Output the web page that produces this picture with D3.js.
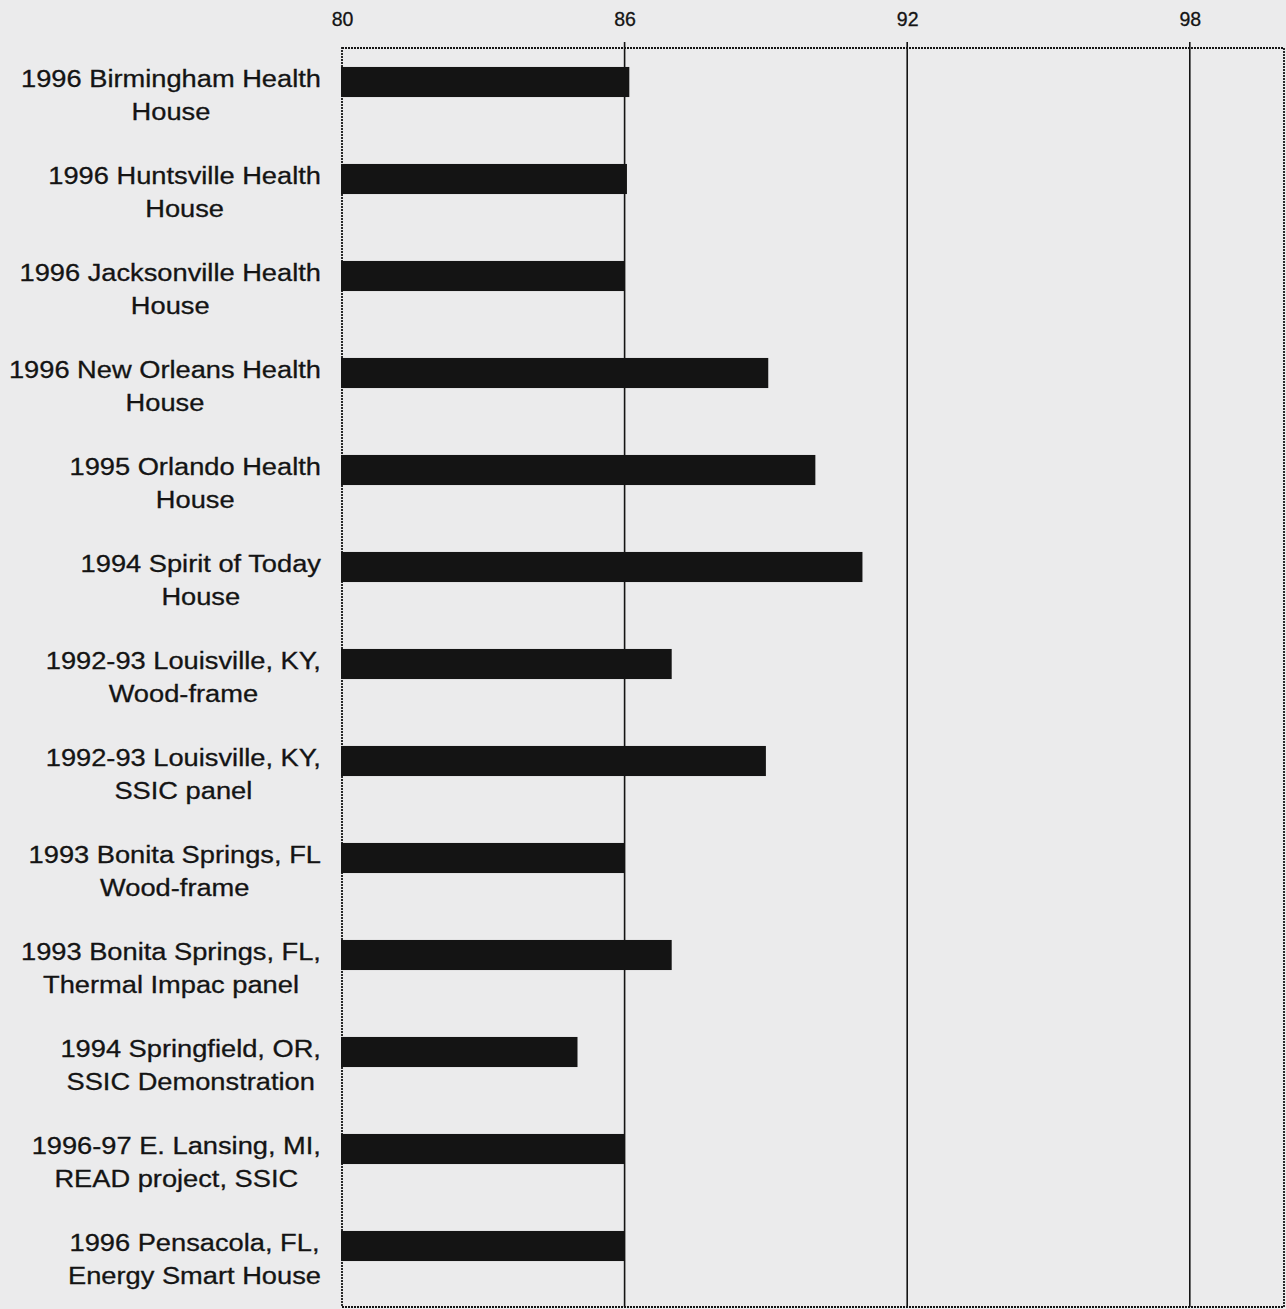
<!DOCTYPE html>
<html>
<head>
<meta charset="utf-8">
<script src="https://cdn.jsdelivr.net/npm/d3@7"></script>
<style>
  html, body { margin: 0; padding: 0; background: #ebebec; }
  svg { display: block; font-family: "Liberation Sans", Arial, Helvetica, sans-serif; }
</style>
</head>
<body>
<svg id="chart" width="1286" height="1309"></svg>
<script>
// categories, two lines each
const houses = [
    ["1996 Birmingham Health", "House"],
    ["1996 Huntsville Health", "House"],
    ["1996 Jacksonville Health", "House"],
    ["1996 New Orleans Health", "House"],
    ["1995 Orlando Health", "House"],
    ["1994 Spirit of Today", "House"],
    ["1992-93 Louisville, KY,", "Wood-frame"],
    ["1992-93 Louisville, KY,", "SSIC panel"],
    ["1993 Bonita Springs, FL", "Wood-frame"],
    ["1993 Bonita Springs, FL,", "Thermal Impac panel"],
    ["1994 Springfield, OR,", "SSIC Demonstration"],
    ["1996-97 E. Lansing, MI,", "READ project, SSIC"],
    ["1996 Pensacola, FL,", "Energy Smart House"]
];
const scores = [86.1, 86.05, 86, 89.05, 90.05, 91.05, 87, 89, 86, 87, 85, 86, 86];
const tickValues = [80, 86, 92, 98];

const svg = d3.select("#chart");

// plot frame
const plotLeft = 342, plotRight = 1284, plotTop = 48, plotBottom = 1307;

const x = d3.scaleLinear().domain([80, 100]).range([plotLeft, plotRight]);
const y = d3.scaleBand()
    .domain(d3.range(houses.length))
    .range([33.5, 33.5 + 97 * houses.length])
    .paddingInner(0.69)
    .paddingOuter(0.345);

const ink = "#141414";
const stretch = 1.16; // the original type is a bit wider than Liberation Sans

// gridlines (through the top axis, with a small tick above)
svg.append("g")
    .selectAll("line")
    .data(tickValues.slice(1))
    .join("line")
    .attr("x1", d => x(d)).attr("x2", d => x(d))
    .attr("y1", plotTop - 6).attr("y2", plotBottom)
    .attr("stroke", ink)
    .attr("stroke-width", 1.6);

// frame: dotted look from the scan
svg.append("rect")
    .attr("x", plotLeft).attr("y", plotTop)
    .attr("width", plotRight - plotLeft).attr("height", plotBottom - plotTop)
    .attr("fill", "none")
    .attr("stroke", ink)
    .attr("stroke-width", 1.8)
    .attr("stroke-dasharray", "2,1");

// top axis labels
const axis = d3.axisTop(x).tickValues(tickValues).tickSize(0).tickPadding(0);
const ax = svg.append("g")
    .attr("transform", `translate(0,${plotTop - 22})`)
    .call(axis);
ax.select(".domain").remove();
ax.selectAll("text")
    .attr("fill", ink)
    .attr("stroke", ink)
    .attr("stroke-width", 0.3)
    .style("font-size", "19.5px")
    .style("font-family", "'Liberation Sans', Arial, sans-serif");

// bars
svg.append("g")
    .selectAll("rect")
    .data(scores)
    .join("rect")
    .attr("x", x(80) - 1)
    .attr("y", (d, i) => y(i))
    .attr("width", d => x(d) - x(80) + 1)
    .attr("height", y.bandwidth())
    .attr("fill", ink);

// category labels, centred block, right edge near the plot
const labels = svg.append("g")
    .selectAll("text")
    .data(houses)
    .join("text")
    .attr("text-anchor", "middle")
    .attr("fill", ink)
    .attr("stroke", ink)
    .attr("stroke-width", 0.3)
    .style("font-size", "23.5px");

labels.each(function (d, i) {
    const t = d3.select(this);
    const cy = y(i) + y.bandwidth() / 2;
    t.selectAll("tspan")
        .data(d)
        .join("tspan")
        .attr("x", 0)
        .attr("dy", (s, j) => j === 0 ? 0 : 33)
        .text(s => s);
    // width of widest line
    let w = 0;
    t.selectAll("tspan").each(function () { w = Math.max(w, this.getComputedTextLength()); });
    const cx = 321 - w * stretch / 2;
    t.attr("transform", `translate(${cx},${cy + 5}) scale(${stretch},1)`);
});
</script>
</body>
</html>
